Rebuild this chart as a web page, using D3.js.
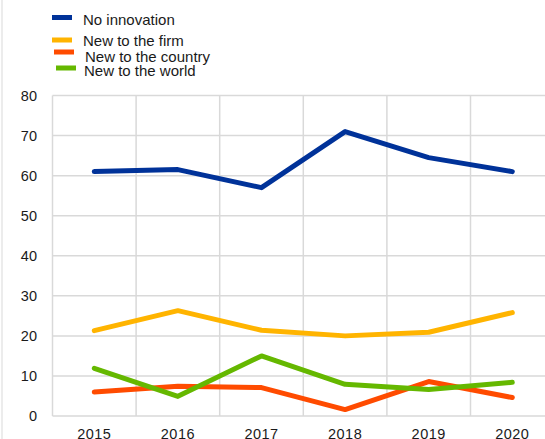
<!DOCTYPE html>
<html>
<head>
<meta charset="utf-8">
<script src="https://cdn.jsdelivr.net/npm/d3@7"></script>
<style>
  html, body { margin: 0; padding: 0; background: #fff; }
  svg { display: block; font-family: "Liberation Sans", Arial, sans-serif; }
</style>
</head>
<body>
<svg id="chart" width="545" height="439"></svg>
<script>
// Share of firms by type of innovation, per year
const years = ["2015", "2016", "2017", "2018", "2019", "2020"];
const noInnovation = [61, 61.5, 57, 71, 64.5, 61];
const newToFirm = [21.3, 26.3, 21.4, 20, 20.9, 25.8];
const newToCountry = [6, 7.4, 7.1, 1.6, 8.6, 4.6];
const newToWorld = [11.9, 4.9, 15, 7.9, 6.6, 8.4];
const yTicks = [0, 10, 20, 30, 40, 50, 60, 70, 80];

const seriesNames = ["No innovation", "New to the firm", "New to the country", "New to the world"];
const seriesColors = ["#003299", "#ffb400", "#ff4b00", "#65b800"];
const seriesValues = [noInnovation, newToFirm, newToCountry, newToWorld];

const svg = d3.select("#chart");
const plotLeft = 52.5, plotTop = 95.5, plotBottom = 416, bandW = 83.6;

const x = d3.scaleBand().domain(years).range([plotLeft, plotLeft + bandW * years.length]).padding(0);
const y = d3.scaleLinear().domain([0, 80]).range([plotBottom, plotTop]);

// outer frame line on the left edge
svg.append("line").attr("x1", 2).attr("x2", 2).attr("y1", 0).attr("y2", 439)
  .attr("stroke", "#d9d9d9").attr("stroke-width", 1);

const grid = svg.append("g");
// horizontal gridlines
grid.selectAll("line.h").data(yTicks).join("line")
  .attr("class", "h")
  .attr("x1", plotLeft).attr("x2", 545)
  .attr("y1", d => y(d)).attr("y2", d => y(d))
  .attr("stroke", "#d9d9d9").attr("stroke-width", 1.5);
// vertical gridlines at category boundaries
const bounds = years.map(d => x(d));
grid.selectAll("line.v").data(bounds).join("line")
  .attr("class", "v")
  .attr("x1", d => d).attr("x2", d => d)
  .attr("y1", plotTop).attr("y2", plotBottom)
  .attr("stroke", "#d9d9d9").attr("stroke-width", 1.5);

// y axis labels
const yAxis = d3.axisLeft(y).tickValues(yTicks).tickSize(0).tickPadding(0).tickFormat(d3.format("d"));
const ya = svg.append("g").attr("transform", `translate(${37},0)`).call(yAxis);
ya.select(".domain").remove();
ya.selectAll("text").attr("font-size", 14.5).attr("fill", "#1a1a1a")
  .attr("font-family", "'Liberation Sans', Arial, sans-serif");

// x axis labels
const xAxis = d3.axisBottom(x).tickSize(0).tickPadding(0);
const xa = svg.append("g").attr("transform", `translate(0,${plotBottom})`).call(xAxis);
xa.select(".domain").remove();
xa.selectAll("text").attr("font-size", 14.5).attr("fill", "#1a1a1a")
  .attr("dy", null).attr("y", 22.5).attr("letter-spacing", 0.5)
  .attr("font-family", "'Liberation Sans', Arial, sans-serif");

// series lines
const line = d3.line()
  .x((d, i) => x(years[i]) + x.bandwidth() / 2)
  .y(d => y(d));

svg.append("g").selectAll("path").data(seriesValues).join("path")
  .attr("d", d => line(d))
  .attr("fill", "none")
  .attr("stroke", (d, i) => seriesColors[i])
  .attr("stroke-width", 5)
  .attr("stroke-linecap", "round")
  .attr("stroke-linejoin", "round");

// legend
const legendRows = [
  { sx: 52, sy: 15, tx: 83, ty: 24.5 },
  { sx: 52, sy: 37.5, tx: 83, ty: 45.5 },
  { sx: 54, sy: 49.5, tx: 85, ty: 62 },
  { sx: 56, sy: 65.5, tx: 84, ty: 75.5 }
];
const lg = svg.append("g");
seriesNames.forEach((name, i) => {
  const r = legendRows[i];
  lg.append("rect").attr("x", r.sx).attr("y", r.sy).attr("width", 20).attr("height", 5)
    .attr("fill", seriesColors[i]);
  lg.append("text").attr("x", r.tx).attr("y", r.ty).text(name)
    .attr("font-size", 15).attr("fill", "#1a1a1a");
});
</script>
</body>
</html>
